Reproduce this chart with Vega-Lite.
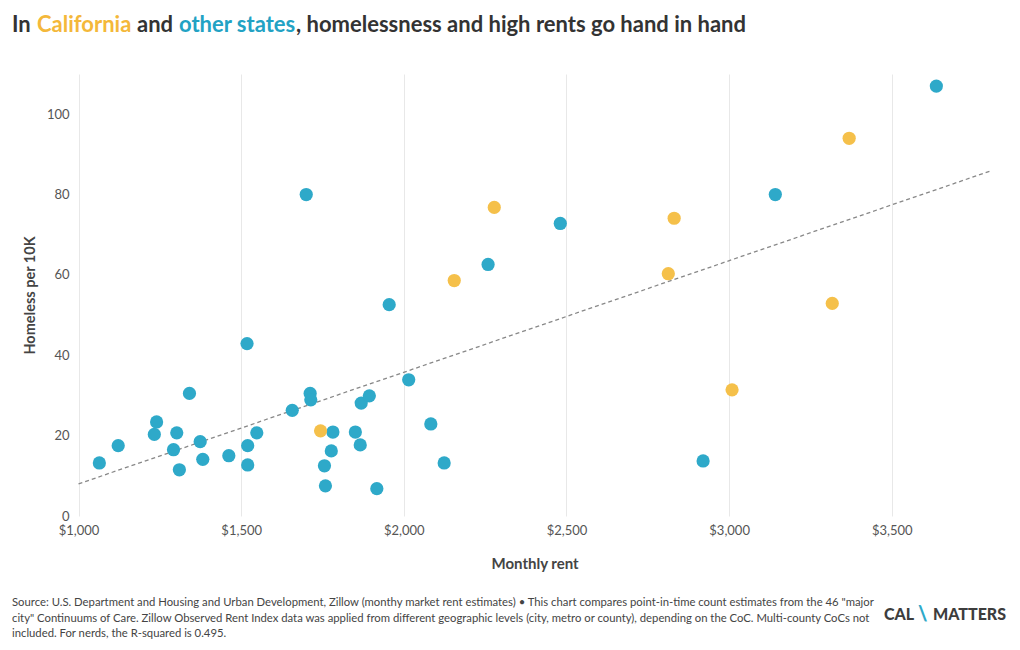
{
  "$schema": "https://vega.github.io/schema/vega-lite/v6.json",
  "background": "white",
  "padding": {"left": 12, "top": 13, "right": 6, "bottom": 5},
  "config": {"font": "Lato", "view": {"stroke": null}},
  "datasets": {
    "points": [
      {"rent": 1064, "homeless": 13.2, "group": "Other states"},
      {"rent": 1122, "homeless": 17.5, "group": "Other states"},
      {"rent": 1240, "homeless": 23.4, "group": "Other states"},
      {"rent": 1233, "homeless": 20.3, "group": "Other states"},
      {"rent": 1302, "homeless": 20.7, "group": "Other states"},
      {"rent": 1292, "homeless": 16.5, "group": "Other states"},
      {"rent": 1310, "homeless": 11.5, "group": "Other states"},
      {"rent": 1341, "homeless": 30.5, "group": "Other states"},
      {"rent": 1374, "homeless": 18.5, "group": "Other states"},
      {"rent": 1382, "homeless": 14.1, "group": "Other states"},
      {"rent": 1462, "homeless": 15.0, "group": "Other states"},
      {"rent": 1518, "homeless": 42.9, "group": "Other states"},
      {"rent": 1520, "homeless": 17.5, "group": "Other states"},
      {"rent": 1520, "homeless": 12.7, "group": "Other states"},
      {"rent": 1548, "homeless": 20.7, "group": "Other states"},
      {"rent": 1657, "homeless": 26.3, "group": "Other states"},
      {"rent": 1700, "homeless": 80.0, "group": "Other states"},
      {"rent": 1712, "homeless": 30.5, "group": "Other states"},
      {"rent": 1714, "homeless": 28.9, "group": "Other states"},
      {"rent": 1756, "homeless": 12.5, "group": "Other states"},
      {"rent": 1759, "homeless": 7.5, "group": "Other states"},
      {"rent": 1777, "homeless": 16.2, "group": "Other states"},
      {"rent": 1782, "homeless": 20.9, "group": "Other states"},
      {"rent": 1851, "homeless": 20.9, "group": "Other states"},
      {"rent": 1866, "homeless": 17.7, "group": "Other states"},
      {"rent": 1869, "homeless": 28.1, "group": "Other states"},
      {"rent": 1894, "homeless": 29.9, "group": "Other states"},
      {"rent": 1917, "homeless": 6.8, "group": "Other states"},
      {"rent": 1955, "homeless": 52.6, "group": "Other states"},
      {"rent": 2015, "homeless": 33.9, "group": "Other states"},
      {"rent": 2083, "homeless": 22.9, "group": "Other states"},
      {"rent": 2124, "homeless": 13.2, "group": "Other states"},
      {"rent": 2259, "homeless": 62.6, "group": "Other states"},
      {"rent": 2481, "homeless": 72.8, "group": "Other states"},
      {"rent": 2920, "homeless": 13.7, "group": "Other states"},
      {"rent": 3142, "homeless": 80.0, "group": "Other states"},
      {"rent": 3637, "homeless": 107.0, "group": "Other states"},
      {"rent": 1744, "homeless": 21.2, "group": "California"},
      {"rent": 2155, "homeless": 58.6, "group": "California"},
      {"rent": 2278, "homeless": 76.8, "group": "California"},
      {"rent": 2813, "homeless": 60.3, "group": "California"},
      {"rent": 2831, "homeless": 74.1, "group": "California"},
      {"rent": 3009, "homeless": 31.4, "group": "California"},
      {"rent": 3317, "homeless": 52.9, "group": "California"},
      {"rent": 3369, "homeless": 94.0, "group": "California"}
    ],
    "trend": [
      {"rent": 1000, "homeless": 8.0},
      {"rent": 3805, "homeless": 85.9}
    ],
    "gridlines": [
      {"homeless": 0}, {"homeless": 20}, {"homeless": 40}, {"homeless": 60}, {"homeless": 80}, {"homeless": 100}
    ],
    "blank": [{}]
  },
  "spacing": 26,
  "vconcat": [
    {
      "spacing": 0,
      "hconcat": [
        {"data": {"name": "blank"}, "width": 1, "height": 5, "mark": {"type": "text", "text": ""}, "encoding": {},
         "title": {"text": "In \u200b", "anchor": "start", "frame": "group", "orient": "top", "offset": 0, "fontSize": 22, "fontWeight": "bold", "color": "#333333"}},
        {"data": {"name": "blank"}, "width": 1, "height": 5, "mark": {"type": "text", "text": ""}, "encoding": {},
         "title": {"text": "California \u200b", "anchor": "start", "frame": "group", "orient": "top", "offset": 0, "fontSize": 22, "fontWeight": "bold", "color": "#f4b83a"}},
        {"data": {"name": "blank"}, "width": 1, "height": 5, "mark": {"type": "text", "text": ""}, "encoding": {},
         "title": {"text": "and \u200b", "anchor": "start", "frame": "group", "orient": "top", "offset": 0, "fontSize": 22, "fontWeight": "bold", "color": "#333333"}},
        {"data": {"name": "blank"}, "width": 1, "height": 5, "mark": {"type": "text", "text": ""}, "encoding": {},
         "title": {"text": "other states", "anchor": "start", "frame": "group", "orient": "top", "offset": 0, "fontSize": 22, "fontWeight": "bold", "color": "#22a2c4"}},
        {"data": {"name": "blank"}, "width": 1, "height": 5, "mark": {"type": "text", "text": ""}, "encoding": {},
         "title": {"text": ", homelessness and high rents go hand in hand", "anchor": "start", "frame": "group", "orient": "top", "offset": 0, "fontSize": 22, "fontWeight": "bold", "color": "#333333"}}
      ]
    },
    {
      "width": 979,
      "height": 442,
      "encoding": {
        "x": {"field": "rent", "type": "quantitative",
          "scale": {"domain": [795.5, 3805], "nice": false, "zero": false},
          "axis": {"title": "Monthly rent", "values": [1000, 1500, 2000, 2500, 3000, 3500], "format": "$,.0f",
            "labelFlush": false, "ticks": false, "domain": false, "grid": true, "gridColor": "#e8e8e8",
            "labelColor": "#555555", "labelFontSize": 13, "labelPadding": 8,
            "titleFontSize": 15, "titleFontWeight": "bold", "titleColor": "#444444", "titlePadding": 19,
            "titleX": 522.6}},
        "y": {"field": "homeless", "type": "quantitative",
          "scale": {"domain": [0, 110], "nice": false, "zero": true},
          "axis": {"title": "Homeless per 10K", "values": [0, 20, 40, 60, 80, 100],
            "domain": false, "ticks": false, "tickSize": 0, "labelPadding": -57, "labelAlign": "right",
            "grid": false,
            "labelColor": "#555555", "labelFontSize": 13,
            "titleFontSize": 14.5, "titleFontWeight": "bold", "titleColor": "#444444",
            "titleX": 25, "titleY": 221}}
      },
      "layer": [
        {
          "data": {"name": "gridlines"},
          "mark": {"type": "rule", "color": "#e8e8e8", "strokeWidth": 1},
          "encoding": {
            "x": {"datum": 1000},
            "x2": {"datum": 3805},
            "y": {"field": "homeless", "type": "quantitative"}
          }
        },
        {
          "data": {"name": "trend"},
          "mark": {"type": "line", "color": "#888888", "strokeWidth": 1.3, "strokeDash": [4, 3]}
        },
        {
          "data": {"name": "points"},
          "mark": {"type": "circle", "size": 175, "opacity": 1},
          "encoding": {
            "color": {"field": "group", "type": "nominal", "legend": null,
              "scale": {"domain": ["California", "Other states"], "range": ["#f5c04a", "#2ea9c9"]}}
          }
        }
      ]
    },
    {
      "spacing": 0,
      "hconcat": [
        {"data": {"name": "blank"}, "width": 872, "height": 1, "mark": {"type": "text", "text": ""}, "encoding": {},
         "title": {"text": [
           "Source: U.S. Department and Housing and Urban Development, Zillow (monthy market rent estimates) • This chart compares point-in-time count estimates from the 46 \"major",
           "city\" Continuums of Care. Zillow Observed Rent Index data was applied from different geographic levels (city, metro or county), depending on the CoC. Multi-county CoCs not",
           "included. For nerds, the R-squared is 0.495."
         ], "anchor": "start", "frame": "group", "orient": "top", "offset": 0, "fontSize": 11.3, "fontWeight": "normal", "lineHeight": 15.5, "color": "#444444"}},
        {"data": {"name": "blank"}, "width": 1, "height": 1, "mark": {"type": "text", "text": ""}, "encoding": {},
         "title": {"text": "CAL \u200b", "anchor": "start", "frame": "group", "orient": "top", "offset": 17, "fontSize": 16, "fontWeight": 900, "color": "#3d3d3d"}},
        {"data": {"name": "blank"}, "width": 1, "height": 1, "mark": {"type": "text", "text": ""}, "encoding": {},
         "title": {"text": "\\ \u200b", "anchor": "start", "frame": "group", "orient": "top", "offset": 15, "fontSize": 20, "fontWeight": 900, "color": "#2ea9c9"}},
        {"data": {"name": "blank"}, "width": 1, "height": 1, "mark": {"type": "text", "text": ""}, "encoding": {},
         "title": {"text": "MATTERS", "anchor": "start", "frame": "group", "orient": "top", "offset": 17, "fontSize": 16, "fontWeight": 900, "color": "#3d3d3d"}}
      ]
    }
  ]
}
